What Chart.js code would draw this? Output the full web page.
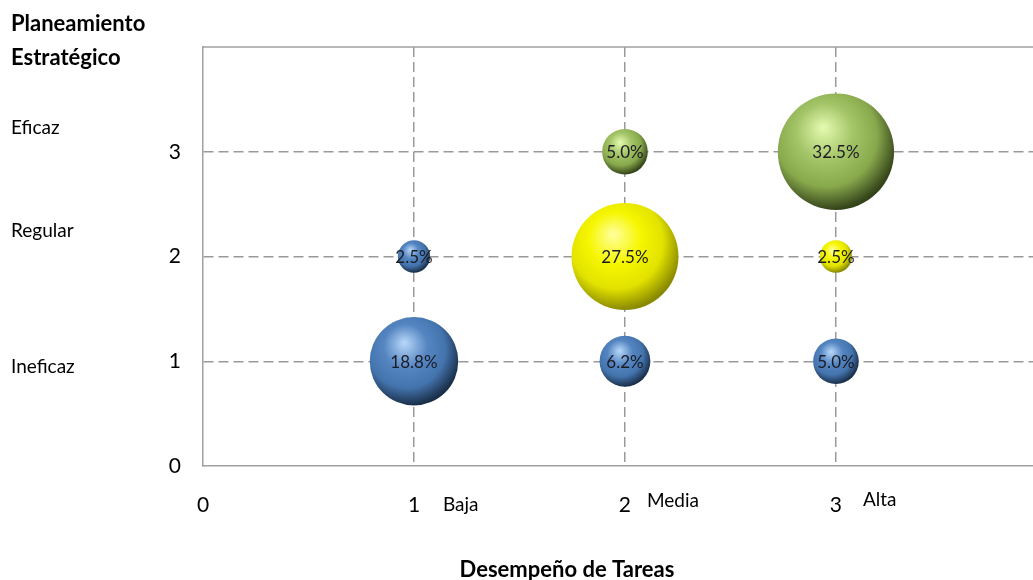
<!DOCTYPE html>
<html lang="es">
<head>
  <meta charset="UTF-8" />
  <title>Planeamiento Estratégico vs Desempeño de Tareas</title>
  <style>
    html, body { margin: 0; padding: 0; background: #fff; overflow: hidden; }
  </style>
</head>
<body>
  <canvas id="bubbles" width="1033" height="580"></canvas>

  <script src="https://cdn.jsdelivr.net/npm/chart.js"></script>
  <script>
    // categorias de cada eje (valores 1..3)
    const xCats = ['Baja', 'Media', 'Alta'];
    const yCats = ['Ineficaz', 'Regular', 'Eficaz'];
    const xTicks = [0, 1, 2, 3];
    const yTicks = [0, 1, 2, 3];

    // series (porcentaje de casos)
    const blueX = [1, 2, 3, 1];
    const blueY = [1, 1, 1, 2];
    const blueVal = [18.8, 6.2, 5.0, 2.5];

    const yellowX = [2, 3];
    const yellowY = [2, 2];
    const yellowVal = [27.5, 2.5];

    const greenX = [2, 3];
    const greenY = [3, 3];
    const greenVal = [5.0, 32.5];

    const FONT = 'Lato, "Open Sans", sans-serif';
    const SIZE_K = 10.2; // radio = K * sqrt(valor)

    const toPoints = (xs, ys, vs) => xs.map((x, i) => ({ x, y: ys[i], v: vs[i] }));

    // esfera con brillo arriba a la izquierda
    function sphere(light, base, mid, dark) {
      return ctx => {
        if (ctx.type !== 'data' || !ctx.raw) return base;
        const chart = ctx.chart;
        const sx = chart.scales.x, sy = chart.scales.y;
        if (!sx || !sy) return base;
        const cx = sx.getPixelForValue(ctx.raw.x);
        const cy = sy.getPixelForValue(ctx.raw.y);
        const r = SIZE_K * Math.sqrt(ctx.raw.v);
        if (!Number.isFinite(cx) || !Number.isFinite(cy)) return base;
        const g = chart.ctx.createRadialGradient(
          cx - r * 0.22, cy - r * 0.42, 0,
          cx - r * 0.15, cy - r * 0.22, r * 1.22);
        g.addColorStop(0, light);
        g.addColorStop(0.4, base);
        g.addColorStop(0.72, mid);
        g.addColorStop(1, dark);
        return g;
      };
    }

    const dashedGrid = {
      color: c => (c.tick && c.tick.value === 0 ? 'rgba(0,0,0,0)' : '#999999'),
      lineWidth: 1.5,
      drawTicks: false
    };

    // textos de categorias, titulos y etiquetas de valor
    const labelsPlugin = {
      id: 'labelsPlugin',
      afterDraw(chart) {
        const { ctx, chartArea, scales } = chart;
        ctx.save();
        // marco superior del area
        ctx.strokeStyle = '#a0a0a0';
        ctx.lineWidth = 1.5;
        ctx.beginPath();
        ctx.moveTo(chartArea.left, chartArea.top);
        ctx.lineTo(chartArea.right, chartArea.top);
        ctx.stroke();

        ctx.fillStyle = '#000';
        ctx.textBaseline = 'middle';
        ctx.textAlign = 'left';
        ctx.font = 'bold 22px ' + FONT;
        ctx.fillText('Planeamiento', 11, 24);
        ctx.fillText('Estratégico', 11, 58);
        ctx.textAlign = 'center';
        ctx.fillText('Desempeño de Tareas', 567, 570);

        ctx.textAlign = 'left';
        ctx.font = '19px ' + FONT;
        const yOff = [6, -26, -24];
        yCats.forEach((t, i) => {
          ctx.fillText(t, 11, scales.y.getPixelForValue(i + 1) + yOff[i]);
        });
        const xShift = [29, 22, 27];
        const xOff = [0, -4, -5];
        xCats.forEach((t, i) => {
          ctx.fillText(t, scales.x.getPixelForValue(i + 1) + xShift[i], 505 + xOff[i]);
        });

        // valores sobre las burbujas
        ctx.textAlign = 'center';
        ctx.font = '17px ' + FONT;
        ctx.fillStyle = '#1b1b24';
        chart.data.datasets.forEach((ds, di) => {
          chart.getDatasetMeta(di).data.forEach((el, i) => {
            ctx.fillText(ds.data[i].v.toFixed(1) + '%', el.x, el.y + 1);
          });
        });
        ctx.restore();
      }
    };

    new Chart(document.getElementById('bubbles'), {
      type: 'bubble',
      data: {
        datasets: [
          { label: 'Ineficaz', data: toPoints(blueX, blueY, blueVal),
            backgroundColor: sphere('#b8d8fa', '#5686c2', '#4474ad', '#1a2f4a') },
          { label: 'Regular', data: toPoints(yellowX, yellowY, yellowVal),
            backgroundColor: sphere('#ffffa0', '#f6f600', '#e2e200', '#8a8a00') },
          { label: 'Eficaz', data: toPoints(greenX, greenY, greenVal),
            backgroundColor: sphere('#e4fbb0', '#a4c468', '#88a84c', '#34441a') }
        ]
      },
      options: {
        responsive: false,
        animation: false,
        devicePixelRatio: 1,
        layout: { autoPadding: false, padding: { top: 47, left: 0, right: 0, bottom: 0 } },
        elements: {
          point: {
            radius: c => (c.raw ? SIZE_K * Math.sqrt(c.raw.v) : 3),
            borderWidth: 0,
            hoverRadius: 0
          }
        },
        plugins: { legend: { display: false }, tooltip: { enabled: false } },
        scales: {
          x: {
            type: 'linear',
            min: 0,
            max: 3.934,
            afterBuildTicks: s => { s.ticks = xTicks.map(v => ({ value: v })); },
            afterFit: s => { s.height = 114; },
            grid: dashedGrid,
            border: { display: true, color: '#a0a0a0', width: 1.5, dash: [10, 5] },
            ticks: { padding: 27, color: '#000', font: { family: FONT, size: 21 } }
          },
          y: {
            type: 'linear',
            min: 0,
            max: 4,
            afterBuildTicks: s => { s.ticks = yTicks.map(v => ({ value: v })); },
            afterFit: s => { s.width = 203; },
            grid: dashedGrid,
            border: { display: true, color: '#a0a0a0', width: 1.5, dash: [10, 5] },
            ticks: { padding: 22, color: '#000', font: { family: FONT, size: 21 } }
          }
        }
      },
      plugins: [labelsPlugin]
    });
  </script>
</body>
</html>
